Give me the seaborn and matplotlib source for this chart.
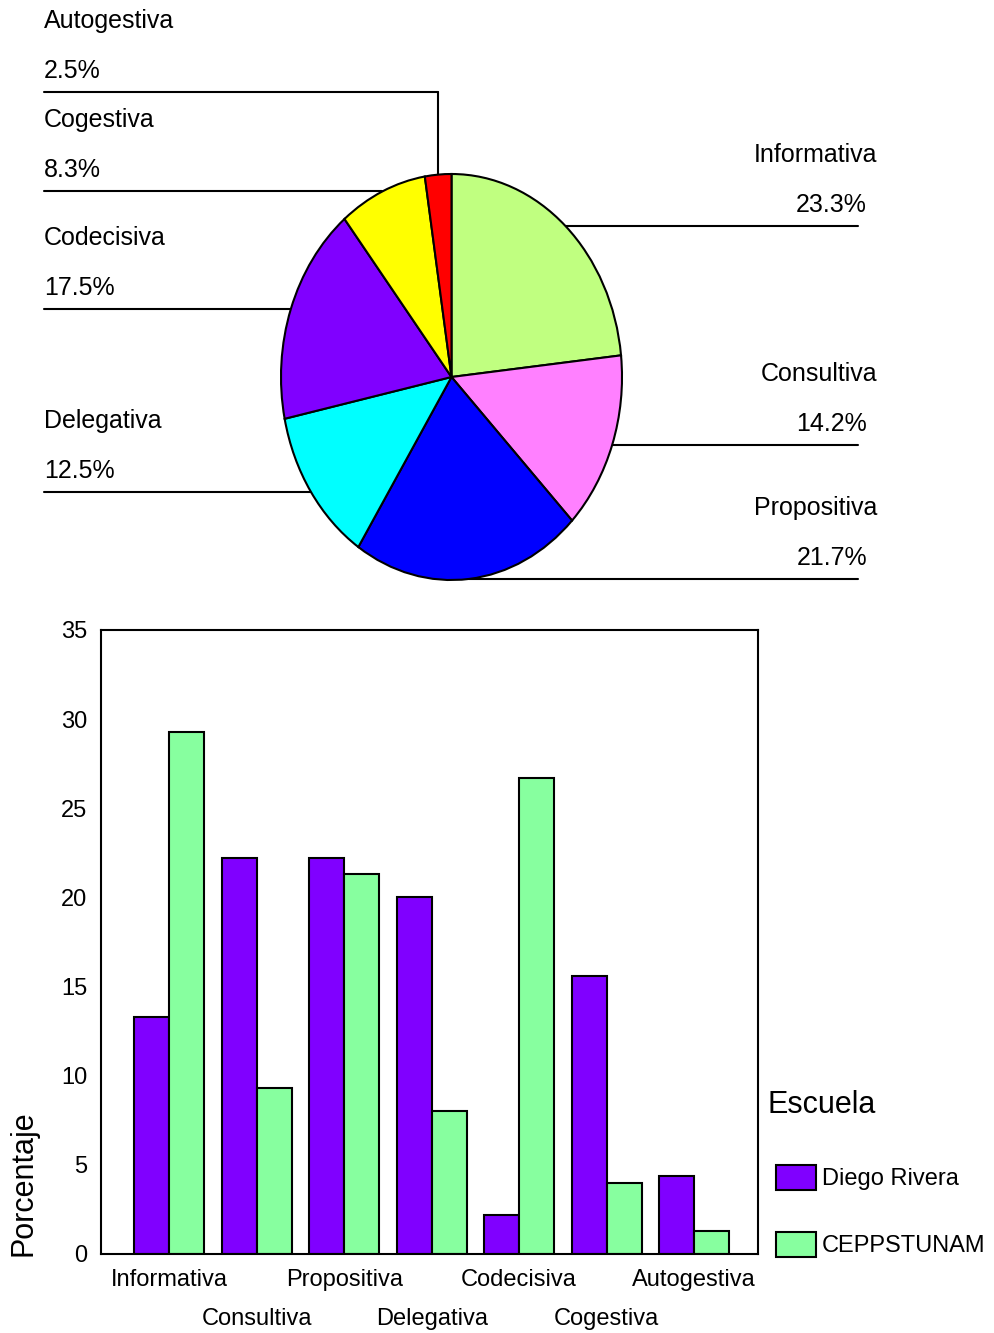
import numpy as np
import pandas as pd
import matplotlib
matplotlib.use("Agg")
import matplotlib.pyplot as plt
from matplotlib.patches import Patch
import seaborn as sns

# datos
categorias = ['Informativa', 'Consultiva', 'Propositiva', 'Delegativa',
              'Codecisiva', 'Cogestiva', 'Autogestiva']
pie_pct = [23.3, 14.2, 21.7, 12.5, 17.5, 8.3, 2.5]
diego_rivera = [13.3, 22.2, 22.2, 20.0, 2.2, 15.6, 4.4]
ceppstunam = [29.3, 9.3, 21.3, 8.0, 26.7, 4.0, 1.3]
escuelas = ['Diego Rivera', 'CEPPSTUNAM']

pie_colors = ['#C0FF80', '#FF80FF', '#0000FF', '#00FFFF', '#8000FF', '#FFFF00', '#FF0000']
bar_colors = {'Diego Rivera': '#8000FF', 'CEPPSTUNAM': '#87FF9F'}

sns.set_theme(style='white')
plt.rcParams['font.family'] = ['Liberation Sans', 'DejaVu Sans']
plt.rcParams['text.color'] = 'black'
plt.rcParams['axes.labelcolor'] = 'black'
plt.rcParams['xtick.color'] = 'black'
plt.rcParams['ytick.color'] = 'black'

W, H = 994, 1333
fig = plt.figure(figsize=(W / 100, H / 100), dpi=100)

# capa para etiquetas y lineas del pastel (coordenadas en pixeles)
ov = fig.add_axes([0, 0, 1, 1])
ov.set_xlim(0, W)
ov.set_ylim(H, 0)
ov.axis('off')

# pastel (eliptico)
PIE_L, PIE_T, PIE_W, PIE_H = 281, 174, 341, 406
ax_pie = fig.add_axes([PIE_L / W, 1 - (PIE_T + PIE_H) / H, PIE_W / W, PIE_H / H])
ax_pie.pie(pie_pct, colors=pie_colors, startangle=90, counterclock=False,
           wedgeprops=dict(edgecolor='black', linewidth=1.5))
ax_pie.set_aspect('auto')
ax_pie.set_xlim(-1, 1)
ax_pie.set_ylim(-1, 1)

cx, cy = PIE_L + PIE_W / 2, PIE_T + PIE_H / 2
rx, ry = PIE_W / 2, PIE_H / 2
codo = {'Autogestiva': 92}  # linea que sube antes de ir a la izquierda

start = 90.0
for cat, p in zip(categorias, pie_pct):
    span = 360 * p / sum(pie_pct)
    mid = np.deg2rad(start - span / 2)
    start -= span
    ex = cx + rx * np.cos(mid)
    ey = cy - ry * np.sin(mid)
    if np.cos(mid) < 0:
        ly = codo.get(cat, ey)
        if cat in codo:
            ov.plot([ex, ex], [ey, ly], color='black', lw=1.5)
        ov.plot([44, ex], [ly, ly], color='black', lw=1.5)
        ov.text(44, ly - 71, cat, fontsize=18, ha='left', va='center')
        ov.text(44, ly - 21, f'{p:.1f}%', fontsize=18, ha='left', va='center')
    else:
        ly = ey
        ov.plot([ex, 858], [ly, ly], color='black', lw=1.5)
        ov.text(877, ly - 71, cat, fontsize=18, ha='right', va='center')
        ov.text(867, ly - 21, f'{p:.1f}%', fontsize=18, ha='right', va='center')

# barras
df = pd.DataFrame({
    'Categoria': categorias * 2,
    'Porcentaje': diego_rivera + ceppstunam,
    'Escuela': [escuelas[0]] * len(categorias) + [escuelas[1]] * len(categorias),
})

ax = fig.add_axes([101 / W, (H - 1254) / H, 657 / W, 624 / H])
sns.barplot(data=df, x='Categoria', y='Porcentaje', hue='Escuela', order=categorias,
            hue_order=escuelas, palette=bar_colors, edgecolor='black', linewidth=1.5,
            width=0.8, saturation=1, legend=False, ax=ax)
ax.set_xlim(-0.78, 6.73)
ax.set_ylim(0, 35)
ax.set_yticks(range(0, 36, 5))
for s in ax.spines.values():
    s.set_visible(True)
    s.set_color('black')
    s.set_linewidth(1.5)
ax.tick_params(axis='both', direction='out', length=8, width=1.5, color='black')
ax.tick_params(axis='y', labelsize=17, pad=2)
ax.tick_params(axis='x', labelsize=17, pad=3)
ax.set_xlabel('')
ax.set_ylabel('Porcentaje', fontsize=22)
ax.yaxis.set_label_coords(-0.095, 0.114)
for i, lbl in enumerate(ax.get_xticklabels()):
    if i % 2:
        lbl.set_y(-0.0625)

# leyenda
fig.text(767 / W, 1 - 1105 / H, 'Escuela', fontsize=22, ha='left', va='center')
handles = [Patch(facecolor=bar_colors[e], edgecolor='black', linewidth=1.5, label=e)
           for e in escuelas]
fig.legend(handles=handles, loc='upper left', bbox_to_anchor=(759 / W, 1 - 1148 / H),
           frameon=False, fontsize=17, handlelength=1.7, handleheight=1.3,
           handletextpad=0.25, labelspacing=1.75, borderpad=0.2)

fig.savefig('out.png', dpi=100)
